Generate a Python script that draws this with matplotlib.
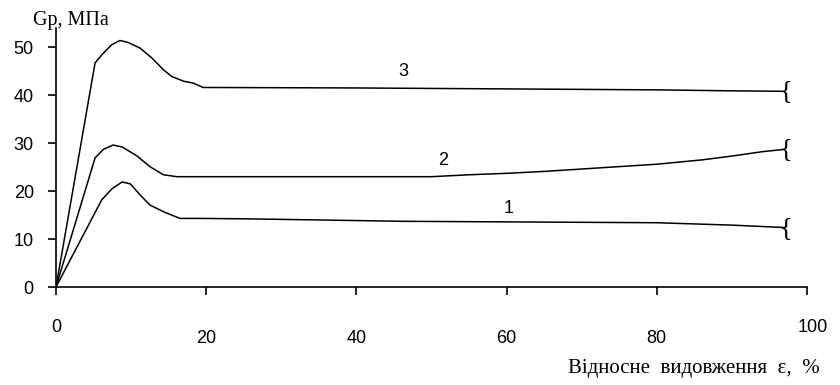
import matplotlib
matplotlib.use("Agg")
import matplotlib.pyplot as plt
from matplotlib.transforms import blended_transform_factory

# curve 3 (top)
x3 = [0, 5.2, 6.1, 7.4, 8.5, 9.6, 11.2, 12.8, 14.3, 15.4, 17.0, 18.3, 19.6, 40, 60, 80, 90, 97]
y3 = [0, 46.7, 48.4, 50.5, 51.4, 51.0, 49.8, 47.7, 45.3, 43.9, 42.9, 42.5, 41.6, 41.5, 41.3, 41.1, 40.9, 40.8]
# curve 2 (middle)
x2 = [0, 5.2, 6.3, 7.6, 8.8, 10.8, 12.5, 14.3, 16.1, 50, 55, 60, 65, 70, 75, 80, 86, 90, 94, 97]
y2 = [0, 26.9, 28.7, 29.6, 29.2, 27.3, 25.1, 23.4, 23.0, 23.0, 23.4, 23.7, 24.1, 24.6, 25.1, 25.6, 26.5, 27.3, 28.2, 28.7]
# curve 1 (bottom)
x1 = [0, 6.1, 7.4, 8.8, 9.9, 11.2, 12.5, 14.3, 16.5, 19.2, 26, 46, 80, 90, 97]
y1 = [0, 18.2, 20.4, 21.9, 21.5, 19.2, 17.1, 15.7, 14.3, 14.3, 14.2, 13.7, 13.4, 12.9, 12.4]

curve_labels = ["1", "2", "3"]
label_x = [60.3, 51.5, 46.3]
label_y = [16.3, 26.3, 45.0]

xticks = [0, 20, 40, 60, 80, 100]
yticks = [0, 10, 20, 30, 40, 50]

fig = plt.figure(figsize=(8.4, 3.85), dpi=100)
ax = fig.add_axes([56 / 840, 98 / 385, 751 / 840, 259 / 385])

for xs, ys in [(x1, y1), (x2, y2), (x3, y3)]:
    ax.plot(xs, ys, color="black", lw=1.1)
    # break mark at the end of each curve
    ax.text(xs[-1] - 0.7, ys[-1], "{", fontsize=19, family="Liberation Serif",
            ha="left", va="center", color="black")

for t, lx, ly in zip(curve_labels, label_x, label_y):
    ax.text(lx, ly, t, fontsize=13, family="Liberation Sans", ha="center", va="center")

ax.set_xlim(0, 100)
ax.set_ylim(0, 54)
ax.spines["top"].set_visible(False)
ax.spines["right"].set_visible(False)
ax.spines["left"].set_linewidth(1.2)
ax.spines["bottom"].set_linewidth(1.2)

ax.set_yticks(yticks)
ax.set_yticklabels([str(v) for v in yticks], family="Liberation Sans", fontsize=13)
ax.tick_params(axis="y", direction="out", length=6, width=1.2, pad=10)

ax.set_xticks(xticks)
ax.set_xticklabels([])
ax.tick_params(axis="x", direction="out", length=6, width=1.2)

# x tick labels placed by hand: old style with 0 and 100 set higher
trans = blended_transform_factory(ax.transData, ax.transAxes)
for v in xticks:
    yy = -0.155 if v in (0, 100) else -0.197
    dx = 0.8 if v == 100 else 0
    ax.text(v + dx, yy, str(v), transform=trans, fontsize=13, family="Liberation Sans",
            ha="center", va="center")

fig.text(33 / 840, 1 - 20 / 385, "Gp, МПа", fontsize=14.5, family="Liberation Serif",
         ha="left", va="center")
fig.text(820 / 840, 1 - 368 / 385, "Відносне  видовження  ε,  %", fontsize=15,
         family="Liberation Serif", ha="right", va="center")

fig.savefig("out.png", dpi=100)
